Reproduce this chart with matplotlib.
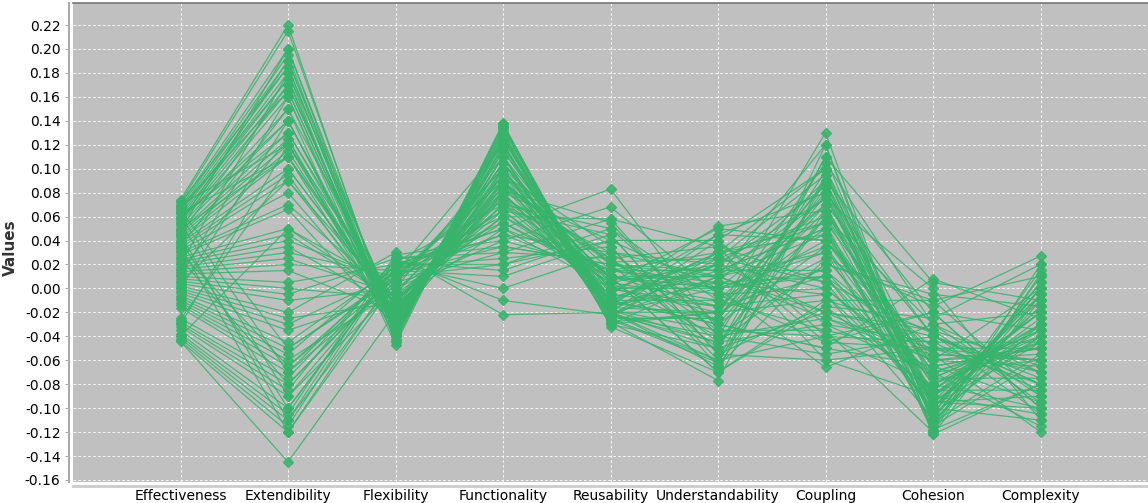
import matplotlib.pyplot as plt
import numpy as np

METRICS = ['Effectiveness', 'Extendibility', 'Flexibility', 'Functionality', 'Reusability',
           'Understandability', 'Coupling', 'Cohesion', 'Complexity']

effectiveness = [
    0.074, 0.072, 0.070, 0.068, 0.066, 0.064, 0.062, 0.060, 0.058, 0.056, 0.054, 0.052, 0.050, 0.048, 0.046,
    0.044, 0.042, 0.040, 0.038, 0.036, 0.034, 0.032, 0.030, 0.028, 0.070, 0.065, 0.060, 0.055, 0.050, 0.045,
    0.026, 0.024, 0.022, 0.020, 0.018, 0.016, 0.014, 0.012, 0.010, 0.008, 0.006, 0.004, 0.002, 0.000, -0.002, -0.004,
    -0.006, -0.008, -0.010, -0.012, -0.014, -0.016, -0.025, -0.028, -0.030, -0.032, -0.035, -0.038, -0.040, -0.042, -0.044, -0.044,
    0.065, 0.060, 0.055, 0.045, 0.035, 0.040, 0.030, 0.025,
    -0.030, -0.026, -0.040, 0.000, 0.010, 0.005, 0.020, 0.015, 0.035, 0.048, 0.058, 0.068, 0.072, 0.063,
]
extendibility = [
    0.220, 0.215, 0.200, 0.195, 0.190, 0.185, 0.180, 0.175, 0.170, 0.165, 0.160, 0.150, 0.140, 0.130, 0.125,
    0.120, 0.115, 0.110, 0.100, 0.095, 0.090, 0.080, 0.070, 0.066, 0.120, 0.175, 0.130, 0.190, 0.110, 0.170,
    0.050, 0.045, 0.040, 0.035, 0.030, 0.025, 0.020, 0.015, 0.005, 0.000, -0.005, -0.010, -0.020, -0.025, -0.030, -0.035,
    -0.045, -0.050, -0.055, -0.060, -0.065, -0.070, -0.075, -0.080, -0.085, -0.090, -0.100, -0.105, -0.110, -0.115, -0.120, -0.145,
    -0.050, -0.070, -0.090, -0.110, -0.120, -0.100, -0.065, -0.080,
    0.120, 0.100, 0.050, 0.140, 0.160, 0.090, 0.180, 0.125, 0.150, 0.200, 0.140, 0.165, 0.185, 0.110,
]
flexibility = [
    -0.040, -0.035, -0.030, -0.042, -0.025, -0.038, -0.020, -0.036, -0.028, -0.033, -0.044, -0.015, -0.030, -0.022, -0.040,
    -0.010, -0.026, -0.034, -0.018, -0.030, -0.012, -0.024, -0.008, -0.032, -0.028, -0.040, -0.016, -0.036, -0.020, -0.030,
    0.000, -0.010, 0.005, -0.015, 0.010, -0.005, 0.015, -0.020, 0.020, -0.008, 0.025, 0.000, 0.030, -0.012, 0.012, -0.005,
    0.018, 0.008, 0.022, -0.002, 0.015, 0.005, 0.020, 0.010, 0.025, 0.000, 0.018, 0.028, 0.008, 0.022, 0.012, -0.020,
    0.010, 0.020, 0.015, 0.025, 0.005, 0.018, 0.008, 0.012,
    -0.025, -0.018, -0.010, -0.030, -0.034, -0.022, -0.045, -0.028, -0.047, -0.038, -0.024, -0.032, -0.036, -0.014,
]
functionality = [
    0.120, 0.135, 0.110, 0.138, 0.090, 0.125, 0.100, 0.130, 0.080, 0.115, 0.136, 0.070, 0.105, 0.095, 0.128,
    0.060, 0.085, 0.118, 0.075, 0.110, 0.050, 0.088, 0.065, 0.100, 0.095, 0.132, 0.078, 0.122, 0.082, 0.115,
    0.040, 0.070, 0.030, 0.090, 0.020, 0.060, 0.010, 0.105, 0.000, 0.075, -0.010, 0.055, -0.022, 0.085, 0.035, 0.095,
    0.025, 0.065, 0.015, 0.080, 0.045, 0.100, 0.050, 0.090, 0.030, 0.110, 0.060, 0.040, 0.100, 0.070, 0.120, 0.080,
    0.045, 0.020, 0.055, 0.035, 0.075, 0.050, 0.090, 0.065,
    0.110, 0.085, 0.070, 0.125, 0.130, 0.095, 0.137, 0.105, 0.134, 0.127, 0.098, 0.118, 0.124, 0.088,
]
reusability = [
    -0.020, -0.025, 0.000, -0.028, 0.010, -0.015, 0.020, -0.030, 0.040, -0.010, -0.022, 0.050, 0.005, 0.015, -0.025,
    0.058, 0.025, -0.005, 0.030, -0.018, 0.083, 0.020, 0.045, -0.012, 0.035, -0.020, 0.010, -0.030, 0.055, -0.008,
    0.068, 0.025, 0.058, 0.000, 0.050, 0.015, 0.040, -0.015, 0.030, 0.010, -0.022, 0.005, -0.020, -0.010, 0.020, -0.020,
    0.035, -0.005, 0.045, -0.015, 0.010, -0.025, 0.000, -0.020, 0.025, -0.028, 0.005, 0.015, -0.022, -0.005, -0.030, -0.010,
    0.030, 0.040, 0.010, 0.020, -0.010, 0.015, -0.018, 0.000,
    -0.020, 0.005, 0.010, -0.025, -0.022, 0.000, -0.032, -0.010, -0.026, -0.018, 0.008, -0.012, -0.016, 0.022,
]
understandability = [
    -0.060, 0.030, 0.000, -0.020, -0.070, 0.045, 0.015, -0.050, 0.040, -0.010, 0.025, -0.030, 0.050, 0.005, -0.025,
    0.035, -0.045, 0.052, 0.010, 0.020, -0.035, 0.000, -0.055, 0.030, -0.065, 0.040, -0.015, 0.010, -0.040, 0.020,
    -0.005, 0.035, -0.040, 0.025, -0.010, 0.015, 0.000, 0.005, -0.030, 0.010, -0.045, 0.020, -0.020, 0.030, -0.050, 0.000,
    -0.060, -0.015, -0.055, 0.015, -0.070, -0.025, 0.005, -0.065, -0.035, -0.077, -0.040, 0.030, 0.010, 0.045, -0.020, 0.020,
    0.020, 0.040, -0.005, 0.010, -0.030, 0.000, -0.045, -0.020,
    -0.050, -0.010, 0.000, -0.060, -0.040, -0.015, -0.070, -0.030, -0.062, -0.035, 0.010, -0.025, -0.020, 0.025,
]
coupling = [
    0.060, 0.100, 0.030, 0.130, -0.010, 0.080, 0.050, 0.110, -0.030, 0.070, 0.095, -0.050, 0.040, 0.010, 0.090,
    -0.060, 0.020, 0.065, -0.020, 0.075, -0.040, 0.035, -0.015, 0.055, 0.025, 0.100, -0.005, 0.120, -0.025, 0.085,
    -0.045, 0.005, -0.055, 0.060, -0.035, 0.015, -0.066, 0.090, -0.050, 0.030, -0.030, 0.000, -0.010, 0.045, -0.020, 0.070,
    -0.040, 0.010, -0.060, 0.050, -0.015, 0.080, -0.005, 0.065, -0.035, 0.095, 0.020, -0.045, 0.075, 0.040, 0.105, 0.055,
    -0.020, -0.040, 0.000, -0.025, 0.035, 0.015, 0.060, 0.025,
    0.085, 0.040, 0.010, 0.110, 0.098, 0.050, 0.120, 0.070, 0.090, 0.078, 0.045, 0.065, 0.088, 0.005,
]
cohesion = [
    -0.030, -0.080, -0.050, -0.115, -0.010, -0.100, -0.105, 0.005, -0.070, -0.040, -0.095, 0.008, -0.055, -0.085, -0.020,
    -0.090, -0.005, -0.065, -0.035, -0.075, -0.045, -0.112, -0.025, -0.118, -0.015, -0.095, -0.090, -0.110, -0.060, -0.122,
    -0.020, -0.100, -0.040, -0.070, -0.055, -0.085, -0.030, -0.090, -0.065, -0.105, -0.045, -0.075, -0.035, -0.095, -0.060, -0.110,
    -0.080, -0.100, -0.050, -0.115, -0.085, -0.040, -0.108, -0.090, -0.120, -0.095, -0.010, -0.050, 0.000, -0.080, -0.030, -0.060,
    -0.040, -0.020, -0.070, -0.050, -0.085, -0.060, -0.100, -0.075,
    -0.105, -0.065, -0.055, -0.112, -0.108, -0.080, -0.122, -0.095, -0.118, -0.100, -0.070, -0.090, -0.098, -0.038,
]
complexity = [
    -0.020, -0.100, -0.050, -0.060, 0.010, -0.110, -0.040, -0.010, -0.115, -0.070, -0.090, -0.025, -0.120, -0.085, -0.035,
    -0.105, -0.015, -0.095, -0.065, -0.075, -0.045, -0.055, 0.020, -0.080, 0.027, -0.100, -0.020, -0.030, 0.000, -0.080,
    -0.100, 0.000, -0.080, -0.040, -0.060, -0.020, -0.090, -0.010, -0.050, 0.015, -0.085, -0.035, -0.095, -0.005, -0.065, 0.005,
    -0.045, -0.015, -0.080, 0.010, -0.030, -0.075, -0.005, -0.025, 0.012, -0.040, -0.090, -0.060, -0.110, -0.030, -0.070, -0.050,
    -0.080, -0.100, -0.045, -0.070, -0.020, -0.055, 0.000, -0.035,
    0.005, -0.050, -0.060, -0.010, 0.000, -0.040, -0.005, -0.030, 0.020, -0.015, -0.060, -0.035, -0.045, -0.105,
]

columns = [effectiveness, extendibility, flexibility, functionality, reusability,
           understandability, coupling, cohesion, complexity]
data = np.array(columns).T   # one row per solution
xs = np.arange(1, len(METRICS) + 1)

GREEN = '#37b36b'

fig = plt.figure(figsize=(11.48, 5.03), dpi=100)
ax = fig.add_axes([73 / 1148, 21 / 503, 1075 / 1148, 479 / 503])
ax.set_facecolor('#c0c0c0')

for row in data:
    ax.plot(xs, row, color=GREEN, lw=0.9, alpha=0.85, marker='D', ms=5.5,
            mec=GREEN, mfc=GREEN, zorder=3)

ax.set_xlim(0, len(METRICS) + 1)
ax.set_ylim(-0.1617, 0.2384)
yt = np.round(np.arange(-0.16, 0.2201, 0.02), 2)
ax.set_yticks(yt)
ax.set_yticklabels(['%.2f' % (v + 0.0) for v in yt], fontsize=8.5, color='#444444')
ax.set_xticks(xs)
ax.set_xticklabels(METRICS, fontsize=7.5, color='#333333')
ax.grid(True, color='white', ls=(0, (3, 2)), lw=0.7, alpha=0.8, zorder=1)
ax.set_axisbelow(True)

ax.tick_params(axis='y', length=3, width=0.6, color='#999999', pad=3)
ax.tick_params(axis='x', length=0, pad=2)

ax.spines['top'].set_color('#777777')
ax.spines['top'].set_linewidth(1.2)
ax.spines['right'].set_visible(False)
ax.spines['left'].set_position(('outward', 3))
ax.spines['left'].set_color('#aaaaaa')
ax.spines['left'].set_linewidth(1.5)
ax.spines['bottom'].set_position(('outward', 3))
ax.spines['bottom'].set_color('#cccccc')
ax.spines['bottom'].set_linewidth(2)

ax.set_ylabel('Values', family=['Liberation Sans Narrow', 'DejaVu Sans'],
              fontweight='bold', fontsize=11, color='#333333')
ax.yaxis.set_label_coords(-0.051, 0.49)

fig.savefig('out.png', dpi=100)
